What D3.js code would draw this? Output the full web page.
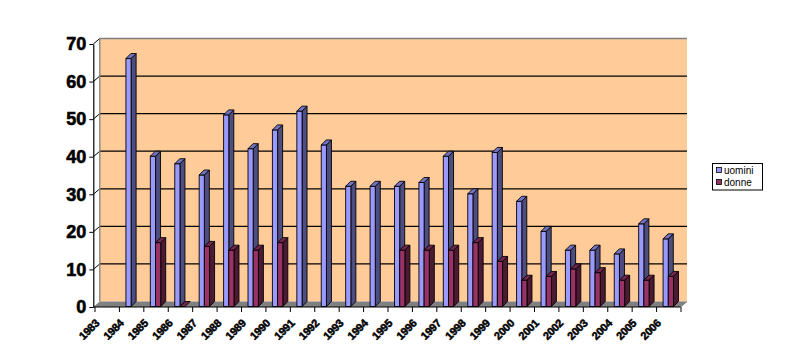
<!DOCTYPE html>
<html>
<head>
<meta charset="utf-8">
<script src="https://cdn.jsdelivr.net/npm/d3@7"></script>
<style>
  body { margin: 0; background: #fff; }
  svg { display: block; }
</style>
</head>
<body>
<svg id="drawing_region"></svg>
<script>
// data
const years = ['1983','1984','1985','1986','1987','1988','1989','1990','1991','1992','1993','1994',
               '1995','1996','1997','1998','1999','2000','2001','2002','2003','2004','2005','2006'];
const uomini = [null, 66, 40, 38, 35, 51, 42, 47, 52, 43, 32, 32, 32, 33, 40, 30, 41, 28, 20, 15, 15, 14, 22, 18];
const donne  = [null, null, 17, 0, 16, 15, 15, 17, null, null, null, null, 15, 15, 15, 17, 12, 7, 8, 10, 9, 7, 7, 8];
const yticks = [0, 10, 20, 30, 40, 50, 60, 70];
const seriesNames = ['uomini', 'donne'];

const colors = {
    uomini: { front: '#9999ff', side: '#4d4d80', top: '#7373c4' },
    donne:  { front: '#993366', side: '#4d1a33', top: '#73264d' }
};

const W = 795, H = 352;
const svg = d3.select('#drawing_region').attr('width', W).attr('height', H);

// front plane of the 3d box
const x0 = 93.3, x1 = 680.5, yBottom = 307, yTop = 44;
// offset of the back wall
const bdx = 6.5, bdy = -5.5;

const xscale = d3.scaleBand().domain(years).range([95, 681]).padding(0);
const yscale = d3.scaleLinear().domain([0, 70]).range([yBottom, yTop]);

// back wall
svg.append('rect')
    .attr('x', x0 + bdx).attr('y', yTop + bdy)
    .attr('width', (x1 + bdx) - (x0 + bdx)).attr('height', yBottom - yTop)
    .attr('fill', '#ffcc99');

// grid lines on back wall + side wall connectors
yticks.forEach(v => {
    const y = yscale(v);
    if (v > 0 && v < 70) {
        svg.append('line')
            .attr('x1', x0 + bdx).attr('x2', x1 + bdx)
            .attr('y1', y + bdy).attr('y2', y + bdy)
            .attr('stroke', '#000').attr('stroke-width', 1.3);
    }
    if (v > 0) {
        svg.append('line')
            .attr('x1', x0).attr('y1', y)
            .attr('x2', x0 + bdx).attr('y2', y + bdy)
            .attr('stroke', '#000').attr('stroke-width', 1);
    }
});

// wall borders
svg.append('path')
    .attr('d', `M${x0 + bdx},${yBottom + bdy} V${yTop + bdy} H${x1 + bdx}`)
    .attr('fill', 'none').attr('stroke', '#808080').attr('stroke-width', 1.3);

// floor
svg.append('path')
    .attr('d', `M${x0},${yBottom} L${x0 + bdx},${yBottom + bdy} L${x1 + bdx},${yBottom + bdy} L${x1},${yBottom} Z`)
    .attr('fill', '#808080');
svg.append('line')
    .attr('x1', x1).attr('y1', yBottom).attr('x2', x1 + bdx).attr('y2', yBottom + bdy)
    .attr('stroke', '#808080').attr('stroke-width', 1);

// 3d bars
const barW = 5.2, dep = 5, barOff = 6.5;
const bars = svg.append('g');

function drawBar(xl, v, c) {
    const yb = yBottom - 0.5;
    const yt = yscale(v) - 0.5;
    const xr = xl + barW;
    const g = bars.append('g').attr('stroke', '#000').attr('stroke-width', 0.9).attr('stroke-linejoin', 'round');
    if (v > 0) {
        g.append('path')
            .attr('d', `M${xr},${yb} L${xr + dep},${yb - dep} L${xr + dep},${yt - dep} L${xr},${yt} Z`)
            .attr('fill', c.side);
        g.append('rect')
            .attr('x', xl).attr('y', yt).attr('width', barW).attr('height', yb - yt)
            .attr('fill', c.front);
    }
    g.append('path')
        .attr('d', `M${xl},${yt} L${xl + dep},${yt - dep} L${xr + dep},${yt - dep} L${xr},${yt} Z`)
        .attr('fill', c.top);
}

years.forEach((yr, i) => {
    const xs = xscale(yr) + barOff;
    if (uomini[i] != null) drawBar(xs, uomini[i], colors.uomini);
    if (donne[i] != null) drawBar(xs + barW, donne[i], colors.donne);
});

// y axis
const yaxis = d3.axisLeft(yscale)
    .tickValues(yticks)
    .tickSize(4)
    .tickSizeOuter(0)
    .tickPadding(3);
const yg = svg.append('g')
    .attr('transform', `translate(${x0},0)`)
    .call(yaxis);
yg.select('.domain').attr('stroke', '#000').attr('stroke-width', 1.2);
yg.selectAll('.tick line').attr('stroke', '#000');
yg.selectAll('.tick text')
    .attr('font-family', 'Liberation Sans, Arial, sans-serif')
    .attr('font-weight', 'bold')
    .attr('font-size', 18)
    .attr('stroke', '#000')
    .attr('stroke-width', 0.6)
    .attr('fill', '#000');

// x axis line, ticks and labels
svg.append('line')
    .attr('x1', x0).attr('x2', x1).attr('y1', yBottom).attr('y2', yBottom)
    .attr('stroke', '#000').attr('stroke-width', 1.2);

const xg = svg.append('g');
years.concat(['end']).forEach((yr, i) => {
    const xt = i < years.length ? xscale(yr) : xscale.range()[1];
    xg.append('line')
        .attr('x1', xt).attr('x2', xt).attr('y1', yBottom).attr('y2', yBottom + 5)
        .attr('stroke', '#000').attr('stroke-width', 1);
});
years.forEach(yr => {
    const xt = xscale(yr) + 5;
    const yt = yBottom + 17;
    xg.append('text')
        .attr('transform', `translate(${xt},${yt}) rotate(-45)`)
        .attr('text-anchor', 'end')
        .attr('font-family', 'Liberation Sans, Arial, sans-serif')
        .attr('font-weight', 'bold')
        .attr('font-size', 11)
        .attr('letter-spacing', -0.3)
        .attr('stroke', '#000')
        .attr('stroke-width', 0.5)
        .text(yr);
});

// legend
const legend = svg.append('g').attr('transform', 'translate(712.5,163.5)');
legend.append('rect')
    .attr('width', 50).attr('height', 26.5)
    .attr('fill', '#fff').attr('stroke', '#000').attr('stroke-width', 1);
seriesNames.forEach((name, i) => {
    const row = legend.append('g').attr('transform', `translate(4,${4 + i * 12})`);
    row.append('rect')
        .attr('width', 5).attr('height', 5)
        .attr('fill', colors[name].front).attr('stroke', '#000').attr('stroke-width', 0.8);
    row.append('text')
        .attr('x', 7.5).attr('y', 6.5)
        .attr('font-family', 'Liberation Sans, Arial, sans-serif')
        .attr('font-size', 10)
        .text(name);
});
</script>
</body>
</html>
